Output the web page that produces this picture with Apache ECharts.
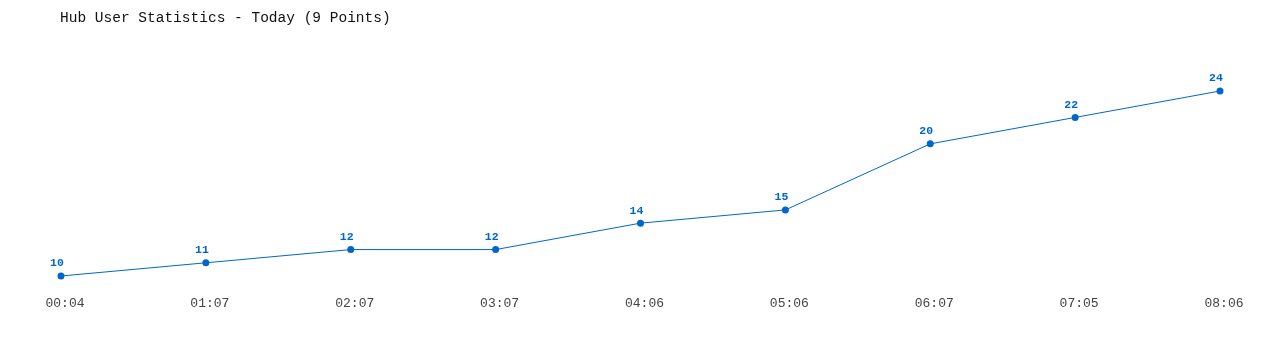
<!DOCTYPE html>
<html>
<head>
<meta charset="utf-8">
<script src="https://cdn.jsdelivr.net/npm/echarts@6/dist/echarts.min.js"></script>
<style>
  html, body { margin: 0; padding: 0; background: #ffffff; }
  #chart { width: 1280px; height: 350px; }
</style>
</head>
<body>
<div id="chart"></div>
<script>
// Hub user counts sampled through today
const times = ['00:04', '01:07', '02:07', '03:07', '04:06', '05:06', '06:07', '07:05', '08:06'];
const users = [10, 11, 12, 12, 14, 15, 20, 22, 24];
const titleText = 'Hub User Statistics - Today (9 Points)';

const mono = '"Liberation Mono", "DejaVu Sans Mono", monospace';
const blue = '#0066cc';

const chart = echarts.init(document.getElementById('chart'), null, { renderer: 'canvas' });
chart.setOption({
  animation: false,
  backgroundColor: '#ffffff',
  title: {
    text: titleText,
    left: 55,
    top: 6,
    textStyle: { fontFamily: mono, fontSize: 14.5, fontWeight: 'normal', color: '#111111' }
  },
  grid: { left: 61, right: 60, top: 91, bottom: 74 },
  xAxis: {
    type: 'category',
    data: times,
    boundaryGap: false,
    axisLine: { show: false },
    axisTick: { show: false },
    splitLine: { show: false },
    axisLabel: {
      fontFamily: mono, fontSize: 13, color: '#444444', margin: 21,
      padding: [0, 0, 0, 8]
    }
  },
  yAxis: {
    type: 'value',
    min: 'dataMin',
    max: 'dataMax',
    show: false,
    splitLine: { show: false }
  },
  series: [{
    type: 'line',
    data: users,
    symbol: 'circle',
    symbolSize: 7,
    lineStyle: { color: blue, width: 1 },
    itemStyle: { color: blue },
    label: {
      show: true,
      position: 'top',
      distance: 3,
      offset: [-4, 0],
      fontFamily: mono,
      fontSize: 11.5,
      fontWeight: 'bold',
      color: blue
    }
  }]
});
</script>
</body>
</html>
